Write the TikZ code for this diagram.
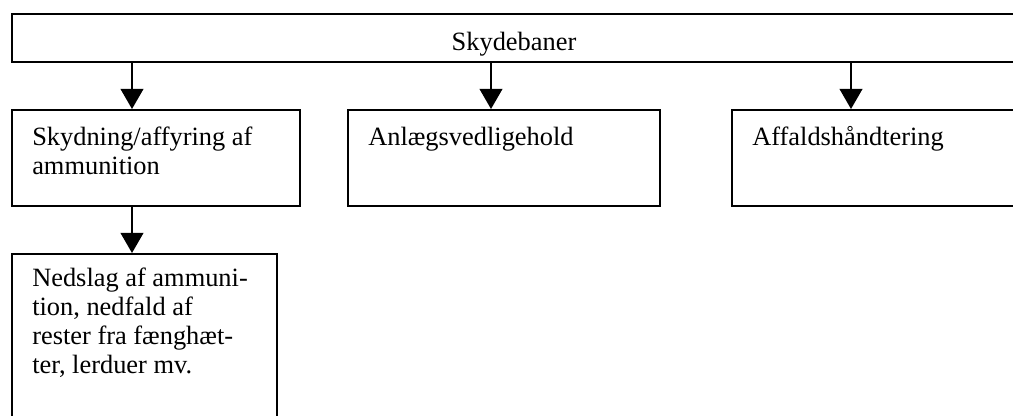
\documentclass[tikz,border=0pt]{standalone}
\usepackage{fontspec}
\setmainfont{Liberation Serif}
\usetikzlibrary{arrows.meta,calc}
\tikzset{
  x=0.75pt, y=-0.75pt,
  box/.style={draw, line width=1.2pt, inner sep=0pt, anchor=north west},
  label/.style={inner sep=0pt, font=\fontsize{19.8pt}{21.75pt}\selectfont},
  arr/.style={line width=1.2pt, -{Triangle[width=17pt,length=15pt]}}
}
\begin{document}
\begin{tikzpicture}
  \useasboundingbox (0,0) rectangle (1013,416);
  \clip (0,0) rectangle (1013,416);
  \fill[white] (0,0) rectangle (1013,416);

  % boxes (the outer ones run past the page edge)
  \node[box, minimum width=1020*0.75pt, minimum height=48*0.75pt] (top) at (11,13) {};
  \node[box, minimum width=288*0.75pt, minimum height=96*0.75pt] (b1) at (11,109) {};
  \node[box, minimum width=312*0.75pt, minimum height=96*0.75pt] (b2) at (347,109) {};
  \node[box, minimum width=300*0.75pt, minimum height=96*0.75pt] (b3) at (731,109) {};
  \node[box, minimum width=265*0.75pt, minimum height=180*0.75pt] (b4) at (11,253) {};

  % texts
  \node[label, anchor=base] (ttop) at (514,51) {Skydebaner};
  \node[label, anchor=base west] (t1) at ($(b1.north west)+(21,37)$)
    {\parbox[t]{195pt}{\raggedright Skydning/affyring af\\ammunition}};
  \node[label, anchor=base west] (t2) at ($(b2.north west)+(21,37)$) {Anlægsvedligehold};
  \node[label, anchor=base west] (t3) at ($(b3.north west)+(21,37)$) {Affaldshåndtering};
  \node[label, anchor=base west] (t4) at ($(b4.north west)+(21,34)$)
    {\parbox[t]{180pt}{\raggedright Nedslag af ammuni-\\tion, nedfald af\\rester fra fænghæt-\\ter, lerduer mv.}};

  % connector columns
  \coordinate (c1) at (132,0);
  \coordinate (c2) at (491,0);
  \coordinate (c3) at (851,0);

  \draw[arr] (top.south -| c1) -- (b1.north -| c1);
  \draw[arr] (top.south -| c2) -- (b2.north -| c2);
  \draw[arr] (top.south -| c3) -- (b3.north -| c3);
  \draw[arr] (b1.south -| c1) -- (b4.north -| c1);
\end{tikzpicture}
\end{document}
